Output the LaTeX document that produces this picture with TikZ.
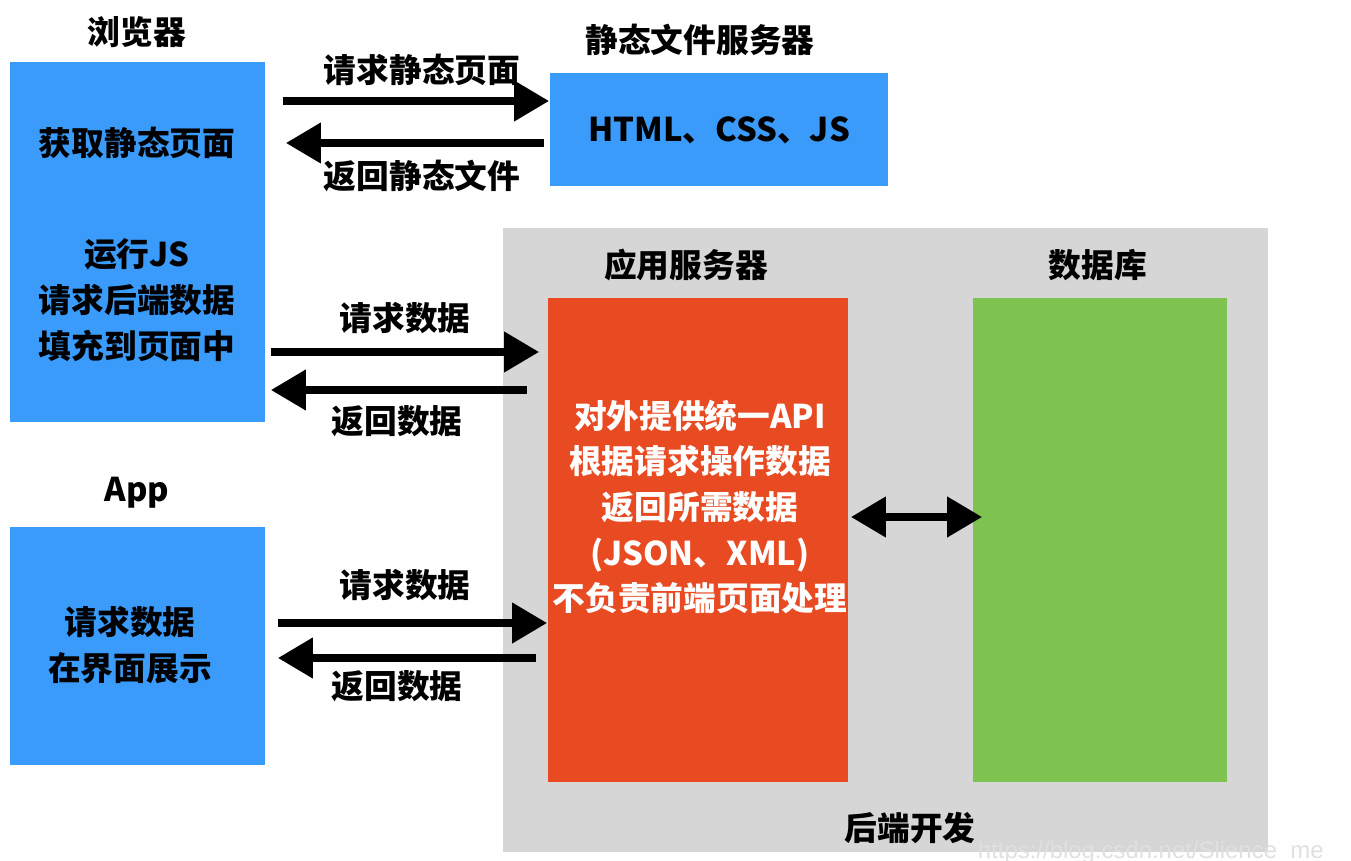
\documentclass[tikz,border=0pt]{standalone}
\usepackage{fontspec}
\setmainfont{Noto Sans CJK SC}
\usepackage{tikz}
\usetikzlibrary{arrows.meta}

\definecolor{boxblue}{RGB}{58,155,250}
\definecolor{boxred}{RGB}{232,74,34}
\definecolor{boxgreen}{RGB}{126,195,80}
\definecolor{backgray}{RGB}{214,214,214}

\tikzset{
	txt/.style={font=\bfseries\fontsize{9.3}{13}\selectfont, align=center, inner sep=0pt},
	box/.style={draw=none, inner sep=0pt},
	arr/.style={line width=2.4pt, -{Triangle[length=10pt,width=11pt]}},
	dblarr/.style={line width=2.4pt, {Triangle[length=10pt,width=11pt]}-{Triangle[length=10pt,width=11pt]}}
}

\begin{document}
\begin{tikzpicture}[x=0.01cm, y=-0.01cm]
	\useasboundingbox (0,0) rectangle (1351,861);
	% backend area
	\node[box, fill=backgray, minimum width=7.65cm, minimum height=6.24cm] (backend) at (885.5,540) {};
	\node[txt] (backendlabel) at (910,828) {后端开发};

	% clients
	\node[box, fill=boxblue, minimum width=2.55cm, minimum height=3.60cm] (browser) at (137.5,242) {};
	\node[txt] (browserlabel) at (137,32) {浏览器};
	\node[txt] (getpage) at (137,143) {获取静态页面};
	\node[txt] (runjs) at (137,300) {运行JS\\请求后端数据\\填充到页面中};

	\node[box, fill=boxblue, minimum width=2.55cm, minimum height=2.38cm] (app) at (137.5,646) {};
	\node[txt] (applabel) at (137,493) {App};
	\node[txt] (appshow) at (130,645) {请求数据\\在界面展示};

	% servers
	\node[box, fill=boxblue, minimum width=3.38cm, minimum height=1.13cm] (static) at (719,129.5) {};
	\node[txt] (staticlabel) at (700,40) {静态文件服务器};
	\node[txt] (files) at (719,130) {HTML、CSS、JS};

	\node[box, fill=boxred, minimum width=3.00cm, minimum height=4.84cm] (appserver) at (698,540) {};
	\node[txt] (appserverlabel) at (686,265) {应用服务器};
	\node[txt, text=white] (api) at (700,507) {对外提供统一API\\根据请求操作数据\\返回所需数据\\(JSON、XML)\\不负责前端页面处理};

	\node[box, fill=boxgreen, minimum width=2.54cm, minimum height=4.84cm] (db) at (1100,540) {};
	\node[txt] (dblabel) at (1098,265) {数据库};

	% browser <-> static server
	\draw[arr] ([xshift=0.17cm]browser.east |- 0,101) -- (static.west |- 0,101);
	\draw[arr] ([xshift=-0.05cm]static.west |- 0,143) -- ([xshift=0.2cm]browser.east |- 0,143);
	\node[txt] (reqpage) at (422,70) {请求静态页面};
	\node[txt] (retfile) at (422,176) {返回静态文件};

	% browser <-> app server
	\draw[arr] ([xshift=0.05cm]browser.east |- 0,352) -- ([xshift=-0.08cm]appserver.west |- 0,352);
	\draw[arr] ([xshift=-0.2cm]appserver.west |- 0,390) -- ([xshift=0.05cm]browser.east |- 0,390);
	\node[txt] (reqdata1) at (405,318) {请求数据};
	\node[txt] (retdata1) at (397,421) {返回数据};

	% app <-> app server
	\draw[arr] ([xshift=0.12cm]app.east |- 0,623) -- (appserver.west |- 0,623);
	\draw[arr] ([xshift=-0.11cm]appserver.west |- 0,658) -- ([xshift=0.12cm]app.east |- 0,658);
	\node[txt] (reqdata2) at (405,585) {请求数据};
	\node[txt] (retdata2) at (397,686) {返回数据};

	% app server <-> database
	\draw[dblarr] ([xshift=0.02cm]appserver.east |- 0,517) -- ([xshift=0.1cm]db.west |- 0,517);

	\node[font=\fontspec{Liberation Sans}\fontsize{6.8}{8}\selectfont, text=white!88!black, anchor=base east] (mark) at (1336,858) {https://blog.csdn.net/Slience\_me};
\end{tikzpicture}
\end{document}
